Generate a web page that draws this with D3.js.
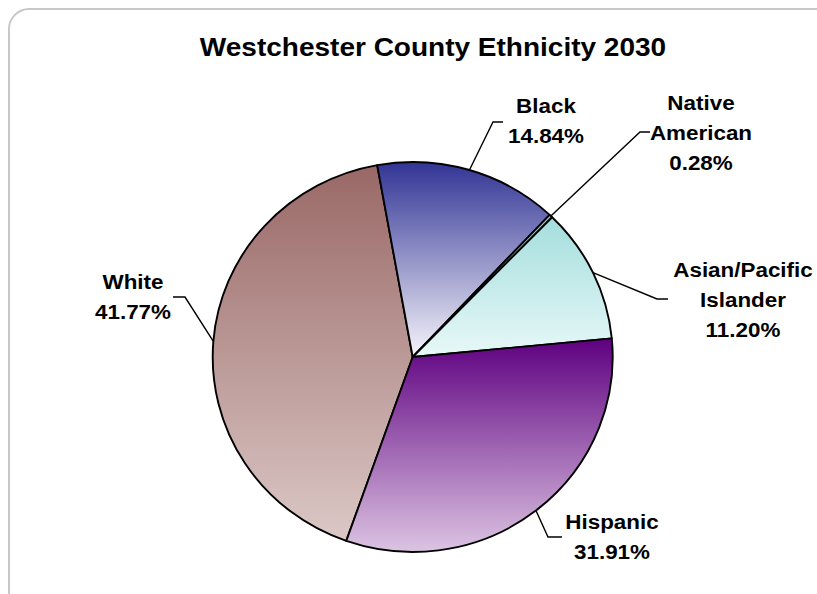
<!DOCTYPE html>
<html>
<head>
<meta charset="utf-8">
<script src="https://cdn.jsdelivr.net/npm/d3@7"></script>
<style>
  body { margin: 0; background: #fff; }
  text { font-family: "Liberation Sans", Arial, sans-serif; font-weight: bold; fill: #000; }
</style>
</head>
<body>
<script>
// data
const categories = ["White", "Black", "Native American", "Asian/Pacific Islander", "Hispanic"];
const shares = [41.77, 14.84, 0.28, 11.20, 31.91];
const topColors = ["#996866", "#323495", "#9fc4c4", "#a4dedd", "#5e0080"];
const bottomColors = ["#dbc8c6", "#f6f5fb", "#e0f0f0", "#e8f8f8", "#dcc4e2"];

// label placement: text centre + first baseline, elbow, end of leader
const labelPos = [
  {tx: 133, ty: 289, ex: 185, ey: 297, hx: 173, hy: 297},
  {tx: 546, ty: 113, ex: 493, ey: 122, hx: 503, hy: 122},
  {tx: 701, ty: 110, ex: 640, ey: 132, hx: 650, hy: 132},
  {tx: 743, ty: 277, ex: 657, ey: 299, hx: 668, hy: 299},
  {tx: 612, ty: 529, ex: 548, ey: 537, hx: 562, hy: 537}
];

const width = 817;
const height = 594;
const cx = 412.7, cy = 357;
const radius = 200;
const squash = 0.975;
const stretch = 1.12;

const svg = d3.select('body').append('svg').attr('width', width).attr('height', height);

svg.append('rect')
  .attr('x', 9).attr('y', 9).attr('width', 830).attr('height', 610)
  .attr('rx', 20).attr('ry', 20)
  .attr('fill', '#fff').attr('stroke', '#c8c8c8').attr('stroke-width', 2);

const title = svg.append('text')
  .attr('x', 433).attr('y', 56)
  .attr('text-anchor', 'middle')
  .style('font-size', '25px')
  .text('Westchester County Ethnicity 2030');

const defs = svg.append('defs');
categories.forEach((c, i) => {
  const lg = defs.append('linearGradient')
    .attr('id', 'grad' + i)
    .attr('x1', 0).attr('y1', 0).attr('x2', 0).attr('y2', 1);
  lg.append('stop').attr('offset', '0%').attr('stop-color', topColors[i]);
  lg.append('stop').attr('offset', '100%').attr('stop-color', bottomColors[i]);
});

const startDeg = 199.4 - 360;
const pie = d3.pie().sort(null)
  .startAngle(startDeg * Math.PI / 180)
  .endAngle(startDeg * Math.PI / 180 + 2 * Math.PI);
const arcs = pie(shares);

const arc = d3.arc().innerRadius(0).outerRadius(radius);
const edge = d3.arc().innerRadius(radius).outerRadius(radius);

const g = svg.append('g').attr('transform', `translate(${cx},${cy}) scale(1,${squash})`);
g.selectAll('path').data(arcs).enter().append('path')
  .attr('d', arc)
  .attr('fill', (d, i) => `url(#grad${i})`)
  .attr('stroke', '#000')
  .attr('stroke-width', 1.9)
  .attr('stroke-linejoin', 'round')
  .attr('vector-effect', 'non-scaling-stroke');

// leader lines
svg.append('g').selectAll('path').data(arcs).enter().append('path')
  .attr('d', (d, i) => {
    const p = edge.centroid(d);
    const l = labelPos[i];
    return d3.line()([[cx + p[0], cy + p[1] * squash], [l.ex, l.ey], [l.hx, l.hy]]);
  })
  .attr('fill', 'none')
  .attr('stroke', '#000')
  .attr('stroke-width', 1.4);

// labels
const labels = svg.append('g').selectAll('text').data(arcs).enter().append('text')
  .attr('text-anchor', 'middle')
  .style('font-size', '20px');

labels.each(function(d, i) {
  const lines = categories[i].split(' ').concat([shares[i].toFixed(2) + '%']);
  const t = d3.select(this);
  lines.forEach((s, k) => {
    t.append('tspan')
      .attr('x', labelPos[i].tx)
      .attr('y', labelPos[i].ty + k * 30)
      .text(s);
  });
});

// the picture is slightly wider than the font, widen text to match
svg.selectAll('tspan').each(function() {
  const w = this.getComputedTextLength();
  d3.select(this).attr('textLength', w * stretch).attr('lengthAdjust', 'spacingAndGlyphs');
});
title.attr('textLength', title.node().getComputedTextLength() * stretch).attr('lengthAdjust', 'spacingAndGlyphs');
</script>
</body>
</html>
